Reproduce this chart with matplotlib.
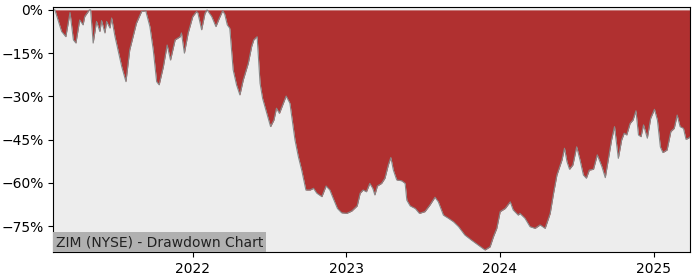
import pandas as pd
import matplotlib
matplotlib.use('Agg')
import matplotlib.pyplot as plt
import matplotlib.ticker as mticker
import matplotlib.dates as mdates

# drawdown readings (percent below running high)
dates = [
    '2021-02-03', '2021-02-07', '2021-02-23', '2021-03-05', '2021-03-15', '2021-03-23',
    '2021-03-29', '2021-04-07', '2021-04-15', '2021-04-19', '2021-04-30', '2021-05-03',
    '2021-05-09', '2021-05-17', '2021-05-25', '2021-05-29', '2021-06-06', '2021-06-10',
    '2021-06-18', '2021-06-22', '2021-06-30', '2021-07-16', '2021-07-26', '2021-08-04',
    '2021-08-20', '2021-09-01', '2021-09-11', '2021-09-21', '2021-09-29', '2021-10-07',
    '2021-10-13', '2021-10-23', '2021-11-01', '2021-11-09', '2021-11-20', '2021-12-02',
    '2021-12-05', '2021-12-12', '2021-12-21', '2022-01-01', '2022-01-10', '2022-01-13',
    '2022-01-22', '2022-01-30', '2022-02-04', '2022-02-15', '2022-02-25', '2022-03-05',
    '2022-03-13', '2022-03-18', '2022-03-24', '2022-03-30', '2022-04-07', '2022-04-15',
    '2022-04-23', '2022-05-01', '2022-05-07', '2022-05-13', '2022-05-21', '2022-05-26',
    '2022-06-03', '2022-06-10', '2022-06-16', '2022-06-26', '2022-07-05', '2022-07-13',
    '2022-07-19', '2022-07-26', '2022-08-11', '2022-08-20', '2022-09-01', '2022-09-09',
    '2022-09-17', '2022-09-27', '2022-10-07', '2022-10-15', '2022-10-23', '2022-11-04',
    '2022-11-14', '2022-11-23', '2022-12-01', '2022-12-11', '2022-12-21', '2023-01-02',
    '2023-01-14', '2023-01-27', '2023-02-03', '2023-02-10', '2023-02-18', '2023-02-26',
    '2023-03-05', '2023-03-10', '2023-03-16', '2023-03-26', '2023-04-03', '2023-04-11',
    '2023-04-17', '2023-04-23', '2023-05-01', '2023-05-13', '2023-05-21', '2023-05-25',
    '2023-06-02', '2023-06-14', '2023-06-24', '2023-07-07', '2023-07-19', '2023-07-31',
    '2023-08-08', '2023-08-20', '2023-09-01', '2023-09-13', '2023-09-25', '2023-10-10',
    '2023-10-26', '2023-11-11', '2023-11-27', '2023-12-09', '2023-12-17', '2023-12-25',
    '2024-01-02', '2024-01-14', '2024-01-26', '2024-02-02', '2024-02-14', '2024-02-18',
    '2024-03-01', '2024-03-13', '2024-03-25', '2024-04-06', '2024-04-18', '2024-04-30',
    '2024-05-08', '2024-05-16', '2024-05-28', '2024-06-03', '2024-06-09', '2024-06-15',
    '2024-06-23', '2024-07-02', '2024-07-10', '2024-07-18', '2024-07-25', '2024-08-01',
    '2024-08-11', '2024-08-20', '2024-08-31', '2024-09-08', '2024-09-15', '2024-09-23',
    '2024-09-30', '2024-10-09', '2024-10-17', '2024-10-23', '2024-10-29', '2024-11-06',
    '2024-11-13', '2024-11-20', '2024-11-26', '2024-12-02', '2024-12-08', '2024-12-17',
    '2024-12-25', '2025-01-03', '2025-01-10', '2025-01-17', '2025-01-23', '2025-02-02',
    '2025-02-11', '2025-02-19', '2025-02-26', '2025-03-05', '2025-03-13', '2025-03-19',
    '2025-03-25', '2025-03-29',
]
drawdown = [
    0, 0, -7.5, -9.3, -0.9, -10.4,
    -11.5, -3.5, -5.2, -2.3, 0, 0,
    -11.5, -4, -7.5, -3.7, -8, -4,
    -6.3, -2.8, -9.3, -19.7, -24.9, -13.9,
    -4.6, -0.6, -0.3, -5.8, -13.9, -24.9,
    -26, -19.7, -12.2, -17.4, -10.4, -9.3,
    -8, -15, -8, -2.3, -0.6, -1,
    -6.9, -1.2, 0, -2.3, -5.8, -2.9,
    -0.3, -1.5, -5.2, -6.4, -20.8, -26,
    -29.5, -24.3, -21.4, -18.5, -12.7, -10.4,
    -9.3, -25.5, -30.7, -35.9, -40.5, -38.2,
    -34.1, -35.9, -29.9, -32.4, -45.1, -50.9,
    -55.6, -62.5, -62.5, -61.9, -63.6, -64.8,
    -61.1, -62.5, -65.4, -68.9, -70.4, -70.6,
    -69.8, -68, -63.6, -62.5, -63.1, -60.2,
    -61.9, -64.2, -61.1, -60.2, -58.4, -53.8,
    -51.2, -55.6, -59, -59.3, -60.2, -66,
    -68, -68.9, -70.6, -70, -67.7, -65,
    -66.6, -71.2, -72.3, -73.5, -75.2, -78.1,
    -79.9, -81.6, -83.3, -82.2, -78.7, -75.8,
    -70, -68.9, -66.6, -69.4, -71.2, -70.6,
    -72.3, -75.2, -75.8, -74.6, -75.8, -70.6,
    -63.6, -57.3, -52.1, -48, -52.7, -55.3,
    -53.8, -47.5, -52.1, -57.3, -58.4, -55.6,
    -55.3, -50.3, -54.4, -58.2, -52.1, -45.1,
    -40.5, -51.5, -45.1, -42.8, -43.4, -39.4,
    -38.2, -35, -43.4, -44, -39.9, -44.5,
    -37.6, -34.5, -38.2, -47.5, -49.5, -48.6,
    -42.2, -41.1, -36.5, -40.5, -41.1, -44.9,
    -44.5, -44,
]
y_ticks = [0, -15, -30, -45, -60, -75]
title = 'ZIM (NYSE) - Drawdown Chart'

df = pd.DataFrame({'date': pd.to_datetime(dates), 'dd': drawdown})

fig = plt.figure(figsize=(7, 2.8), dpi=100)
ax = fig.add_axes([0.076, 0.10, 0.910, 0.875])
ax.set_facecolor('#ededed')

ax.fill_between(df['date'], df['dd'], 0, color='#b03030', linewidth=0)
ax.plot(df['date'], df['dd'], color='#888888', linewidth=0.8)

ax.set_xlim(df['date'].iloc[0], df['date'].iloc[-1])
ax.set_ylim(-84, 1)
ax.set_yticks(y_ticks)
ax.yaxis.set_major_formatter(mticker.PercentFormatter(decimals=0))
ax.xaxis.set_major_locator(mdates.YearLocator())
ax.xaxis.set_major_formatter(mdates.DateFormatter('%Y'))

ax.text(0.004, 0.012, title, transform=ax.transAxes, fontsize=10,
        ha='left', va='bottom', color='#222222',
        bbox=dict(facecolor='#b0b0b0', edgecolor='none', pad=2))

plt.savefig('out.png', dpi=100)
